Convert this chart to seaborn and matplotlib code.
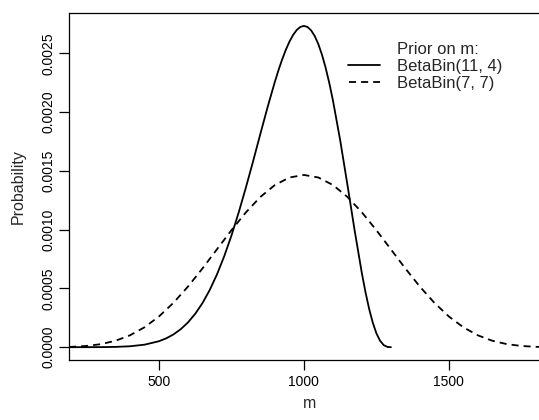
import numpy as np
import pandas as pd
import matplotlib
matplotlib.use("Agg")
import matplotlib.pyplot as plt
from matplotlib.lines import Line2D
import seaborn as sns

# ---- data ----
m_solid = [190, 250, 300, 350, 400, 450, 500, 525, 550, 575, 600, 625, 650, 675,
           700, 725, 750, 775, 800, 825, 850, 875, 900, 912.5, 925, 937.5, 950,
           962.5, 975, 987.5, 1000, 1012.5, 1025, 1037.5, 1050, 1062.5, 1075,
           1087.5, 1100, 1125, 1150, 1175, 1200, 1212.5, 1225, 1237.5, 1250,
           1262.5, 1275, 1287.5, 1300]
p_solid = [0.0, 1.1e-7, 6.0e-7, 2.39e-6, 7.73e-6, 2.11e-5, 5.05e-5, 7.49e-5,
           1.082e-4, 1.524e-4, 2.099e-4, 2.831e-4, 3.741e-4, 4.851e-4,
           6.175e-4, 7.720e-4, 9.481e-4, 1.1448e-3, 1.3582e-3, 1.5830e-3,
           1.8155e-3, 2.0434e-3, 2.2582e-3, 2.3567e-3, 2.4471e-3, 2.5282e-3,
           2.5978e-3, 2.6546e-3, 2.6969e-3, 2.7233e-3, 2.7323e-3, 2.7229e-3,
           2.6940e-3, 2.6450e-3, 2.5756e-3, 2.4857e-3, 2.3757e-3, 2.2467e-3,
           2.0998e-3, 1.7612e-3, 1.3817e-3, 9.914e-4, 6.266e-4, 4.656e-4,
           3.249e-4, 2.081e-4, 1.178e-4, 5.49e-5, 1.80e-5, 2.5e-6, 0.0]

m_dashed = [190, 200, 250, 300, 350, 400, 450, 500, 550, 600, 650, 700, 750,
            800, 850, 900, 950, 1000, 1050, 1100, 1150, 1200, 1250, 1300,
            1350, 1400, 1450, 1500, 1550, 1600, 1650, 1700, 1750, 1800, 1810, 1850]
p_dashed = [2.42e-6, 3.19e-6, 1.027e-5, 2.578e-5, 5.435e-5, 1.0066e-4, 1.687e-4,
            2.607e-4, 3.769e-4, 5.146e-4, 6.688e-4, 8.318e-4, 9.945e-4,
            1.1466e-3, 1.2779e-3, 1.3791e-3, 1.4430e-3, 1.4648e-3, 1.4430e-3,
            1.3791e-3, 1.2779e-3, 1.1466e-3, 9.945e-4, 8.318e-4, 6.688e-4,
            5.146e-4, 3.769e-4, 2.607e-4, 1.687e-4, 1.0066e-4, 5.435e-5,
            2.578e-5, 1.027e-5, 3.19e-6, 2.42e-6, 6.7e-7]

x_ticks = [500, 1000, 1500]
y_ticks = [0.0, 0.0005, 0.0010, 0.0015, 0.0020, 0.0025]
legend_title = "Prior on m:"
labels = ["BetaBin(11, 4)", "BetaBin(7, 7)"]

# ---- style ----
sns.set_style("white")
plt.rcParams["font.family"] = ["Liberation Sans", "DejaVu Sans"]
plt.rcParams["font.size"] = 10

LW = 1.3
DASH = (0, (3.9, 2.8))

W, H = 539, 420
fig = plt.figure(figsize=(W / 100, H / 100), dpi=100)
left, right, top, bottom = 69, 551, 13, 360
ax = fig.add_axes([left / W, (H - bottom) / H, (right - left) / W, (bottom - top) / H])

df_s = pd.DataFrame({"m": m_solid, "p": p_solid})
df_d = pd.DataFrame({"m": m_dashed, "p": p_dashed})
sns.lineplot(data=df_s, x="m", y="p", ax=ax, color="black", lw=LW,
             estimator=None, sort=False, solid_joinstyle="round")
sns.lineplot(data=df_d, x="m", y="p", ax=ax, color="black", lw=LW,
             linestyle=DASH, estimator=None, sort=False)

ax.set_xlim(190, 1852)
ax.set_ylim(-0.000109, 0.002842)
ax.set_xticks(x_ticks)
ax.set_xticklabels([str(v) for v in x_ticks])
ax.set_yticks(y_ticks)
ax.set_yticklabels([f"{v:.4f}" for v in y_ticks], rotation=90, va="center")
ax.tick_params(axis="both", direction="out", length=7, width=0.9, color="black",
               labelsize=10, labelcolor="black", bottom=True, left=True)
ax.tick_params(axis="x", pad=4)
ax.tick_params(axis="y", pad=3)
for s in ["left", "bottom", "top"]:
    ax.spines[s].set_color("black")
    ax.spines[s].set_linewidth(0.9)
ax.spines["right"].set_visible(False)

ax.set_xlabel("m", fontsize=11.5, labelpad=5)
ax.set_ylabel("Probability", fontsize=11.5, labelpad=11)

# ---- legend (R style, no box) ----
def fx(px):
    return px / W

def fy(py):
    return 1 - py / H

LEG_FS = 12
fig.text(fx(397), fy(54), legend_title, fontsize=LEG_FS, ha="left", va="baseline")
fig.text(fx(397), fy(70.7), labels[0], fontsize=LEG_FS, ha="left", va="baseline")
fig.text(fx(397), fy(88.3), labels[1], fontsize=LEG_FS, ha="left", va="baseline")
fig.add_artist(Line2D([fx(348), fx(380)], [fy(64.5), fy(64.5)], color="black",
                      lw=LW, transform=fig.transFigure))
fig.add_artist(Line2D([fx(349), fx(380)], [fy(82), fy(82)], color="black",
                      lw=LW, linestyle=DASH, transform=fig.transFigure))

fig.savefig("out.png", dpi=100)
